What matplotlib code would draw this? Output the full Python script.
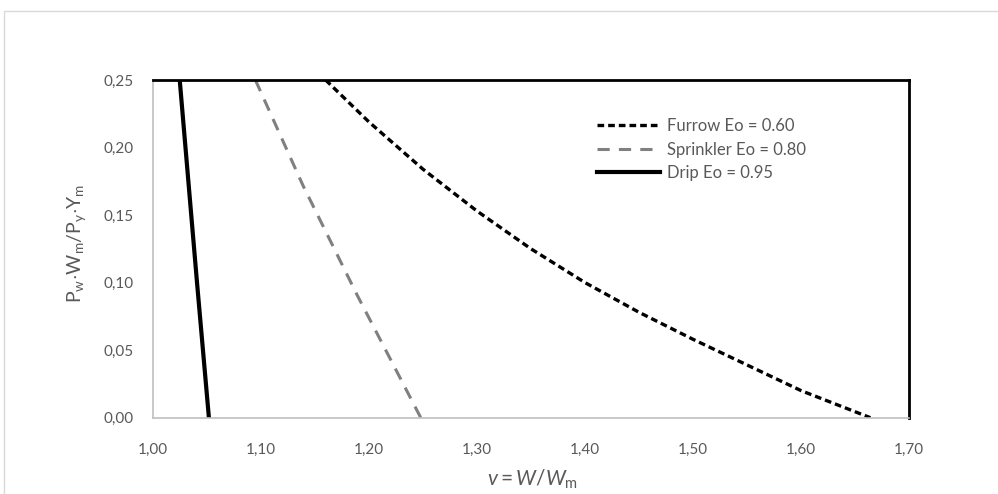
import matplotlib
matplotlib.use("Agg")
import matplotlib.pyplot as plt
from matplotlib.patches import Rectangle
from matplotlib.ticker import FuncFormatter, MultipleLocator

# values
furrow_x = [1.160, 1.200, 1.250, 1.300, 1.350, 1.400, 1.450, 1.500, 1.550, 1.600, 1.664]
furrow_y = [0.250, 0.219, 0.184, 0.153, 0.125, 0.100, 0.078, 0.058, 0.039, 0.020, 0.000]

sprinkler_x = [1.095, 1.139, 1.189, 1.248]
sprinkler_y = [0.250, 0.172, 0.091, 0.000]

drip_x = [1.025, 1.041, 1.052]
drip_y = [0.250, 0.100, 0.000]

labels = ["Furrow Eo = 0.60", "Sprinkler Eo = 0.80", "Drip Eo = 0.95"]

plt.rcParams['font.family'] = ['Lato', 'DejaVu Sans']
plt.rcParams['mathtext.fontset'] = 'custom'
plt.rcParams['mathtext.rm'] = 'Lato'
plt.rcParams['mathtext.it'] = 'Lato:italic'

text_grey = '#595959'

fig = plt.figure(figsize=(9.98, 4.94), dpi=100)
ax = fig.add_axes([152.7 / 998, 1 - 417.7 / 494, (909.3 - 152.7) / 998, (417.7 - 80) / 494])

# light outer chart border
fig.patches.append(Rectangle((4 / 998, -0.1), 1.2, 1 - 11 / 494 + 0.1, transform=fig.transFigure,
                             fill=False, edgecolor='#d9d9d9', linewidth=1))

ax.plot(furrow_x, furrow_y, color='black', linewidth=2.4, dashes=(2.0, 1.2),
        dash_capstyle='butt', label=labels[0])
ax.plot(sprinkler_x, sprinkler_y, color='#808080', linewidth=2.2, dashes=(4, 3),
        dash_capstyle='butt', label=labels[1])
ax.plot(drip_x, drip_y, color='black', linewidth=3, label=labels[2])

ax.set_xlim(1.0, 1.7)
ax.set_ylim(0, 0.25)
ax.xaxis.set_major_locator(MultipleLocator(0.1))
ax.yaxis.set_major_locator(MultipleLocator(0.05))
comma = FuncFormatter(lambda v, pos: f"{v:.2f}".replace('.', ','))
ax.xaxis.set_major_formatter(comma)
ax.yaxis.set_major_formatter(comma)
ax.tick_params(axis='both', length=0, labelsize=11, labelcolor=text_grey)
ax.tick_params(axis='y', pad=14)
ax.tick_params(axis='x', pad=18)

for side in ['left', 'bottom']:
    ax.spines[side].set_color('#bfbfbf')
    ax.spines[side].set_linewidth(1.2)
for side in ['top', 'right']:
    ax.spines[side].set_color('black')
    ax.spines[side].set_linewidth(2)

fig.text(77 / 998, 1 - 243 / 494, r'$\mathregular{P_w{\cdot}W_m/P_y{\cdot}Y_m}$',
         rotation=90, ha='center', va='center', fontsize=14, color=text_grey)
fig.text(533 / 998, 1 - 479 / 494, r'$v = W/W_{\mathrm{m}}$',
         ha='center', va='center', fontsize=15, color=text_grey)

leg = ax.legend(loc='upper left', bbox_to_anchor=(597 / 998, 1 - 118 / 494),
                bbox_transform=fig.transFigure, frameon=False, fontsize=12,
                handlelength=3.8, handletextpad=0.4, labelspacing=0.45,
                borderpad=0, borderaxespad=0)
for t in leg.get_texts():
    t.set_color(text_grey)

fig.savefig('out.png', dpi=100)
